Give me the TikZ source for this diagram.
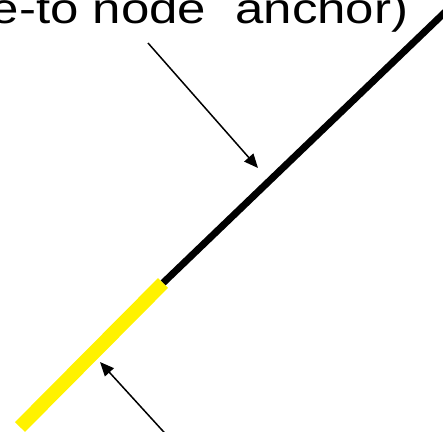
\documentclass[tikz,border=0pt]{standalone}
\usepackage{fontspec}
\setmainfont[FakeStretch=1.2]{Liberation Sans}
\usetikzlibrary{arrows.meta, positioning}

\begin{document}
\begin{tikzpicture}[
    x=1pt, y=-1pt,
    label/.style={inner sep=0pt, anchor=base west, font=\fontsize{42.5}{51}\selectfont},
    seg/.style={line width=7pt},
    hilite/.style={line width=14pt, yellow},
    pointer/.style={-{Triangle[length=14pt, width=12pt]}, line width=1.5pt}
]
\useasboundingbox (0,0) rectangle (443,431);
\clip (0,0) rectangle (443,431);
\node[label] (anchortext) at (-9.5,23) {e-to node\hspace{15pt} anchor)};
\coordinate (mid) at (163,283);
\coordinate (far) at (453,4.5);
\coordinate (near) at (20,427);
\draw[seg] (mid) -- (far);
\draw[hilite] (near) -- (mid);
\coordinate (upstart) at (148,43);
\coordinate (uptip) at (258,168);
\coordinate (lowstart) at (172,441);
\coordinate (lowtip) at (100,362);
\draw[pointer] (upstart) -- (uptip);
\draw[pointer] (lowstart) -- (lowtip);
\end{tikzpicture}
\end{document}
